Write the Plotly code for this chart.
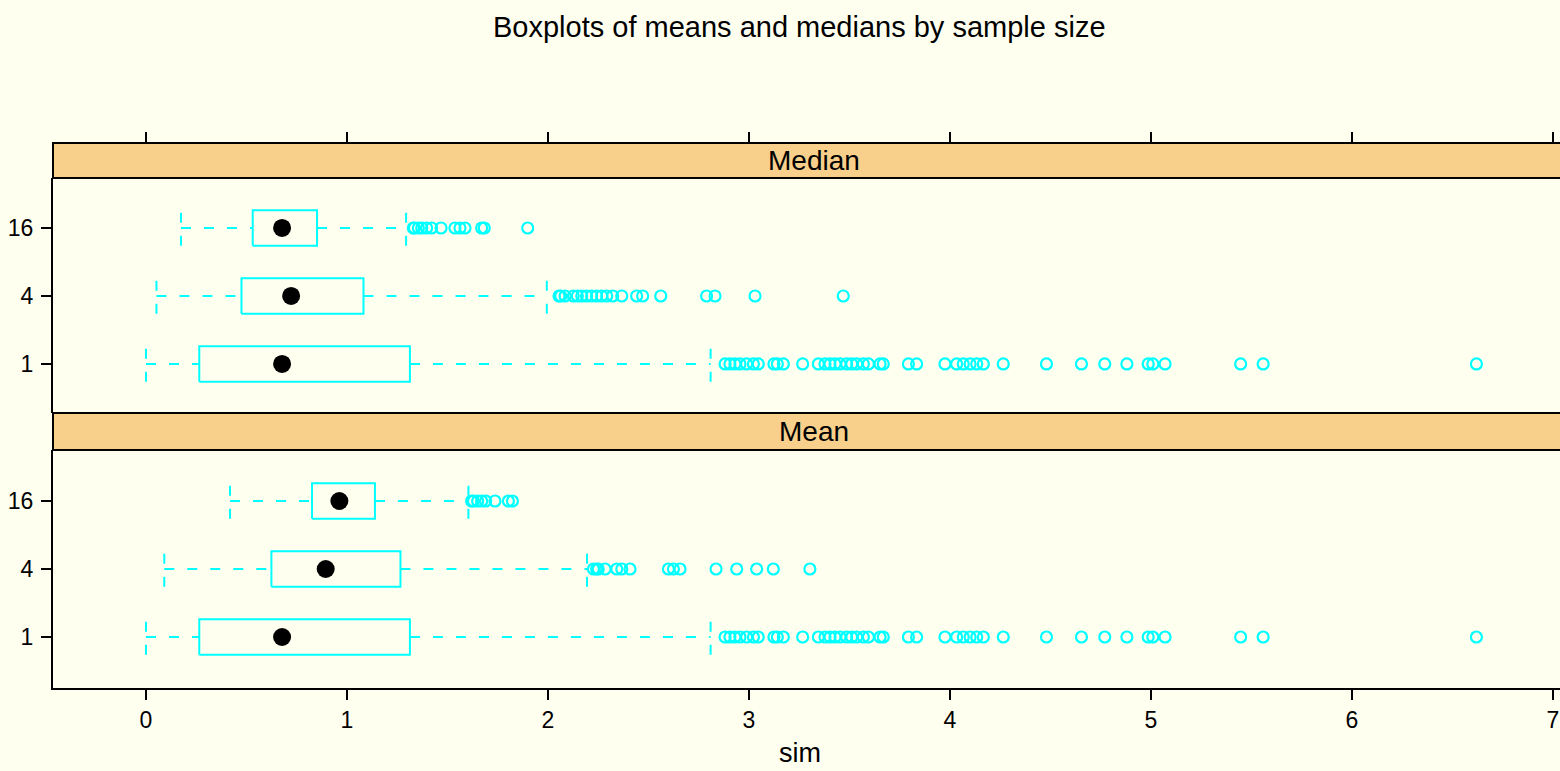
import plotly.graph_objects as go

# ---------------- data ----------------
sizes = ["1", "4", "16"]          # sample sizes (rows, bottom to top)
rows = [1, 2, 3]

# Median panel: five-number box statistics per sample size
median_lower = [0.000, 0.052, 0.174]
median_q1 = [0.265, 0.475, 0.531]
median_mid = [0.677, 0.722, 0.677]
median_q3 = [1.313, 1.082, 0.851]
median_upper = [2.809, 1.994, 1.294]

# Mean panel
mean_lower = [0.000, 0.091, 0.418]
mean_q1 = [0.265, 0.624, 0.826]
mean_mid = [0.677, 0.894, 0.962]
mean_q3 = [1.313, 1.266, 1.139]
mean_upper = [2.809, 2.194, 1.604]

# outliers (n = 1 identical for mean and median)
out_n1 = [2.881, 2.905, 2.930, 2.955, 2.988, 3.022, 3.046, 3.124, 3.141, 3.171,
          3.267, 3.345, 3.378, 3.403, 3.428, 3.453, 3.486, 3.511, 3.536, 3.569,
          3.594, 3.652, 3.668, 3.793, 3.834, 3.975, 4.033, 4.066, 4.100, 4.133,
          4.166, 4.265, 4.480, 4.654, 4.770, 4.880, 4.986, 5.009, 5.070, 5.446,
          5.558, 6.619]
median_out_n4 = [2.055, 2.063, 2.085, 2.126, 2.146, 2.168, 2.192, 2.217, 2.242,
                 2.267, 2.292, 2.322, 2.367, 2.441, 2.471, 2.561, 2.789, 2.831,
                 3.030, 3.469]
median_out_n16 = [1.330, 1.335, 1.355, 1.372, 1.396, 1.421, 1.468, 1.537, 1.562,
                  1.587, 1.670, 1.683, 1.899]
mean_out_n4 = [2.226, 2.242, 2.250, 2.284, 2.342, 2.367, 2.408, 2.599, 2.624,
               2.657, 2.836, 2.939, 3.038, 3.121, 3.303]
mean_out_n16 = [1.620, 1.629, 1.650, 1.670, 1.690, 1.736, 1.803, 1.823]

x_ticks = [0, 1, 2, 3, 4, 5, 6, 7]

# ---------------- style ----------------
BG = "#FFFFF0"
STRIP = "#F8D08B"
CYAN = "#00FFFF"
FONT = "Liberation Sans, Arial, Helvetica, sans-serif"
HALF = 0.26          # half height of the boxes (in row units)
DASH = "10px,13px"

fig = go.Figure()


def add_panel(xa, ya, lower, q1, mid, q3, upper, outs):
    bx, by, wx, wy = [], [], [], []
    for r, lo, a, b, hi in zip(rows, lower, q1, q3, upper):
        bx += [a, b, b, a, a, None]
        by += [r - HALF, r - HALF, r + HALF, r + HALF, r - HALF, None]
        # whiskers + caps
        wx += [lo, a, None, b, hi, None, lo, lo, None, hi, hi, None]
        wy += [r, r, None, r, r, None, r - HALF, r + HALF, None, r - HALF, r + HALF, None]
    fig.add_trace(go.Scatter(x=wx, y=wy, xaxis=xa, yaxis=ya, mode="lines",
                             line=dict(color=CYAN, width=2, dash=DASH),
                             hoverinfo="skip", showlegend=False))
    fig.add_trace(go.Scatter(x=bx, y=by, xaxis=xa, yaxis=ya, mode="lines",
                             line=dict(color=CYAN, width=2),
                             hoverinfo="skip", showlegend=False))
    ox, oy = [], []
    for r, vals in zip(rows, outs):
        ox += vals
        oy += [r] * len(vals)
    fig.add_trace(go.Scatter(x=ox, y=oy, xaxis=xa, yaxis=ya, mode="markers",
                             marker=dict(symbol="circle-open", size=11, color=CYAN,
                                         line=dict(width=2.2, color=CYAN)),
                             showlegend=False))
    fig.add_trace(go.Scatter(x=mid, y=rows, xaxis=xa, yaxis=ya, mode="markers",
                             marker=dict(symbol="circle", size=18, color="black"),
                             showlegend=False))


add_panel("x2", "y2", median_lower, median_q1, median_mid, median_q3, median_upper,
          [out_n1, median_out_n4, median_out_n16])
add_panel("x", "y", mean_lower, mean_q1, mean_mid, mean_q3, mean_upper,
          [out_n1, mean_out_n4, mean_out_n16])

# paper geometry (plot area: x 53..1560 px, y 143..688 px)
H = 545.0
d_mean = [0.0, 238 / H]
d_mean_strip = [238 / H, 275 / H]
d_med = [275 / H, 510 / H]
d_med_strip = [510 / H, 1.0]

axis_common = dict(showgrid=False, zeroline=False, showline=True, linewidth=2,
                   linecolor="black", ticks="outside", ticklen=10, tickwidth=2,
                   tickcolor="black", tickfont=dict(family=FONT, size=23, color="black"))

fig.update_layout(
    width=1560, height=771,
    margin=dict(l=53, r=0, t=143, b=83),
    paper_bgcolor=BG, plot_bgcolor=BG,
    font=dict(family=FONT, color="black"),
    xaxis=dict(domain=[0, 1], anchor="y", range=[-0.4627, 7.0348],
               tickvals=x_ticks, ticklabelstandoff=0, **axis_common),
    yaxis=dict(domain=d_mean, anchor="x", range=[0.25, 3.75], tickvals=rows,
               ticktext=sizes, ticklabelstandoff=3, **axis_common),
    xaxis2=dict(domain=[0, 1], matches="x", anchor="free", position=1.0, side="top",
                tickvals=x_ticks, showticklabels=False, **axis_common),
    yaxis2=dict(domain=d_med, anchor="x2", range=[0.279, 3.735], tickvals=rows,
                ticktext=sizes, ticklabelstandoff=3, **axis_common),
    shapes=[
        dict(type="rect", xref="paper", yref="paper", x0=0, x1=1.02,
             y0=d_med_strip[0], y1=d_med_strip[1], fillcolor=STRIP,
             line=dict(color="black", width=2), layer="above"),
        dict(type="rect", xref="paper", yref="paper", x0=0, x1=1.02,
             y0=d_mean_strip[0], y1=d_mean_strip[1], fillcolor=STRIP,
             line=dict(color="black", width=2), layer="above"),
    ],
    annotations=[
        dict(text="Median", xref="paper", yref="paper", x=(814 - 53) / 1507,
             y=sum(d_med_strip) / 2, showarrow=False, xanchor="center",
             yanchor="middle", font=dict(size=28, family=FONT, color="black")),
        dict(text="Mean", xref="paper", yref="paper", x=(814 - 53) / 1507,
             y=sum(d_mean_strip) / 2, showarrow=False, xanchor="center",
             yanchor="middle", font=dict(size=28, family=FONT, color="black")),
        dict(text="Boxplots of means and medians by sample size", xref="paper",
             yref="paper", x=(799 - 53) / 1507, y=1 + 116 / H, showarrow=False,
             xanchor="center", yanchor="middle",
             font=dict(size=29, family=FONT, color="black")),
        dict(text="sim", xref="paper", yref="paper", x=(800 - 53) / 1507,
             y=-(770 - 688) / H, showarrow=False, xanchor="center", yanchor="bottom",
             font=dict(size=27, family=FONT, color="black")),
    ],
)

fig.write_html("out.html", config={"displayModeBar": False},
               post_script="document.body.style.margin='0';document.body.style.overflow='hidden';")
